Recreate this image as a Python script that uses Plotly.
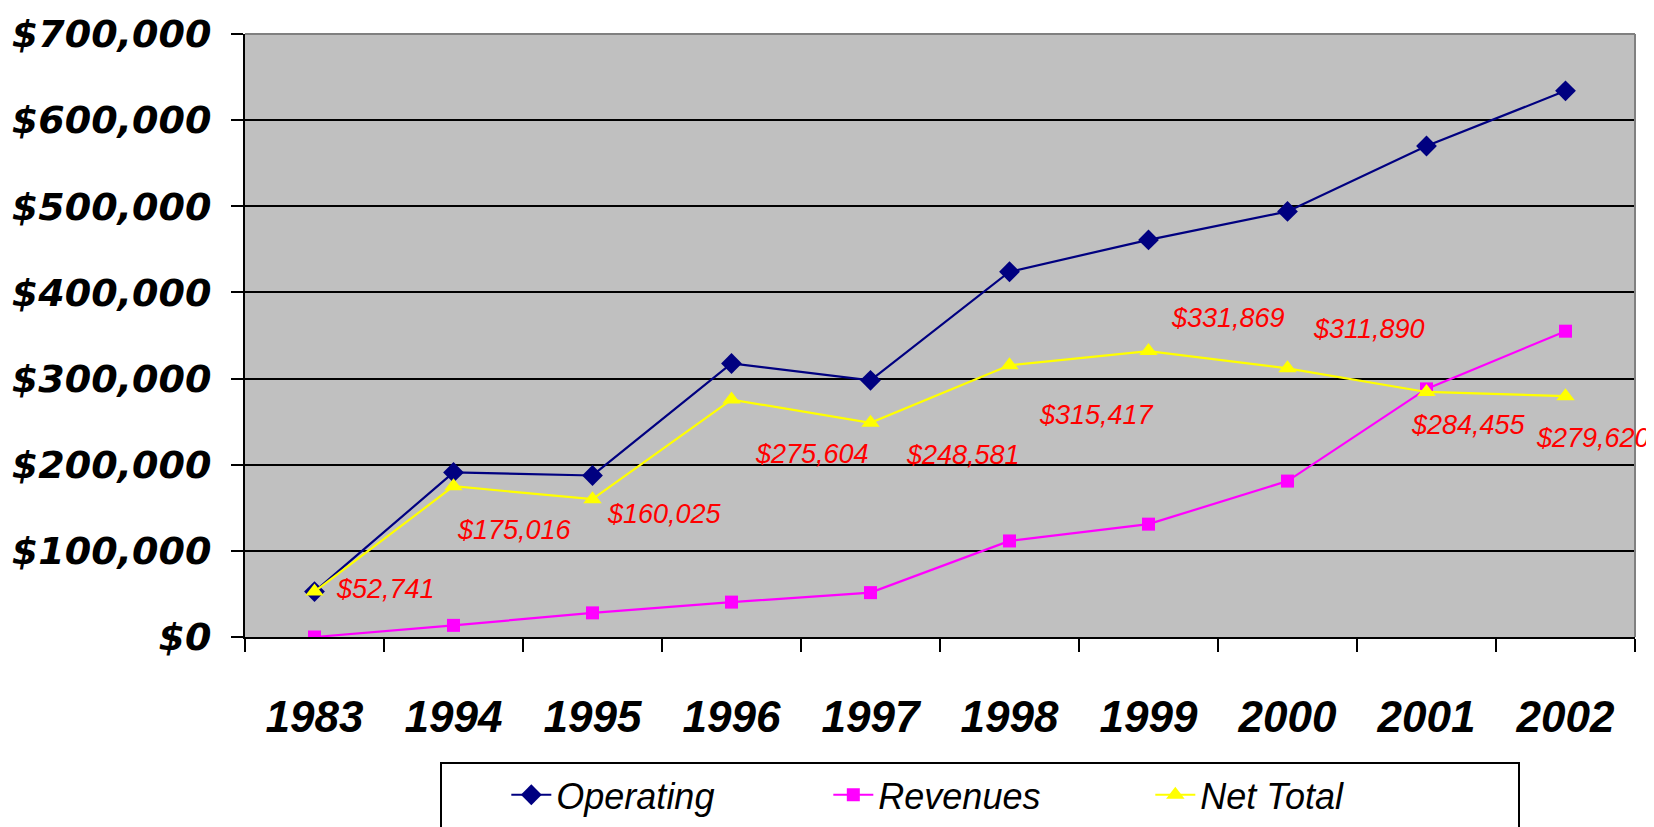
import plotly.graph_objects as go

years = ["1983", "1994", "1995", "1996", "1997", "1998", "1999", "2000", "2001", "2002"]
operating = [52741, 191000, 187500, 317500, 298000, 424000, 461000, 494000, 570000, 634000]
revenues = [0, 13500, 28000, 40500, 51500, 111500, 131000, 181000, 288000, 355000]
net_total = [52741, 175016, 160025, 275604, 248581, 315417, 331869, 311890, 284455, 279620]
y_ticks = [0, 100000, 200000, 300000, 400000, 500000, 600000, 700000]

# label offsets (px) relative to each Net Total point
label_dx = [71, 61, 72, 80, 92, 87, 79, 81, 42, 27]
label_dy = [3, -44, -15, -54, -32, -50, 33, 39, -33, -42]

narrow = "Liberation Sans, Arial, sans-serif"

fig = go.Figure()
fig.add_trace(go.Scatter(x=years, y=operating, name="Operating", mode="lines+markers",
                         line=dict(color="#000080", width=2.2),
                         marker=dict(symbol="diamond", size=16, color="#000080")))
fig.add_trace(go.Scatter(x=years, y=revenues, name="Revenues", mode="lines+markers",
                         line=dict(color="#FF00FF", width=2.2),
                         marker=dict(symbol="square", size=13, color="#FF00FF")))
fig.add_trace(go.Scatter(x=years, y=net_total, name="Net Total", mode="lines+markers",
                         line=dict(color="#FFFF00", width=2.2),
                         marker=dict(symbol="triangle-up", size=16, color="#FFFF00")))

for i, (v, dx, dy) in enumerate(zip(net_total, label_dx, label_dy)):
    fig.add_annotation(x=i, y=v, text=f"${v:,}", showarrow=False,
                       xshift=dx, yshift=dy,
                       font=dict(family=narrow, size=27, color="#FF0000", style="italic"))

# plot-area border (grey top and right)
fig.add_shape(type="line", xref="paper", yref="paper", x0=0, x1=1, y0=1, y1=1,
              line=dict(color="#808080", width=2), layer="above")
fig.add_shape(type="line", xref="paper", yref="paper", x0=1, x1=1, y0=0, y1=1,
              line=dict(color="#808080", width=2), layer="above")
# legend frame
fig.add_shape(type="rect", xref="paper", yref="paper",
              x0=(441 - 245) / 1390, x1=(1519 - 245) / 1390,
              y0=(637 - 840) / 603, y1=(637 - 763) / 603,
              line=dict(color="black", width=2), fillcolor="white", layer="below")

fig.update_layout(
    width=1646, height=819,
    margin=dict(l=237, r=19, t=26, b=190, autoexpand=False),
    paper_bgcolor="white",
    plot_bgcolor="#C0C0C0",
    showlegend=True,
    legend=dict(orientation="h", x=0.188, y=-0.212, xanchor="left", yanchor="top",
                borderwidth=0, bgcolor="rgba(0,0,0,0)",
                font=dict(family=narrow, size=36, color="black", style="italic"),
                entrywidth=267, itemwidth=40,
                tracegroupgap=0),
    xaxis=dict(type="category", range=[-0.5, 9.5], tickson="boundaries", ticks="outside", ticklen=13,
               tickwidth=2, tickcolor="black", showline=True, linecolor="black", linewidth=2,
               showgrid=False, ticklabelstandoff=40, tickangle=0, automargin=False,
               tickfont=dict(family=narrow, size=44,
                             color="black", weight="bold", style="italic")),
    yaxis=dict(range=[0, 700000], tickvals=y_ticks,
               ticktext=[f"${v:,}" for v in y_ticks],
               ticks="outside", ticklen=12, tickwidth=2, tickcolor="black",
               showline=True, linecolor="black", linewidth=2,
               showgrid=True, gridcolor="black", gridwidth=2, zeroline=False,
               ticklabelstandoff=12, automargin=False,
               tickfont=dict(family="DejaVu Sans", size=38, color="black",
                             weight="bold", style="italic")),
)

fig.write_html("out.html")
